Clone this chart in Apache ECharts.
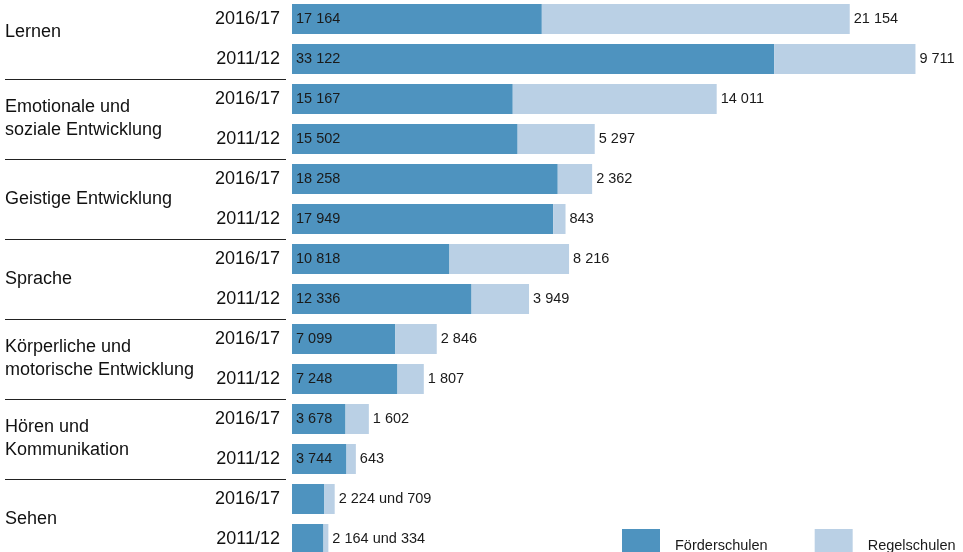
<!DOCTYPE html>
<html lang="de">
<head>
<meta charset="utf-8">
<title>Förderschwerpunkte</title>
<script src="https://cdn.jsdelivr.net/npm/echarts@6/dist/echarts.min.js"></script>
<style>
  html, body { margin: 0; padding: 0; background: #fff; }
  #chart { width: 963px; height: 552px; }
</style>
</head>
<body>
<div id="chart"></div>
<script>
// Förderschwerpunkte, jeweils zwei Schuljahre
const gruppen = [
  'Lernen',
  'Emotionale und\nsoziale Entwicklung',
  'Geistige Entwicklung',
  'Sprache',
  'Körperliche und\nmotorische Entwicklung',
  'Hören und\nKommunikation',
  'Sehen'
];
const jahre = ['2016/17', '2011/12'];

// Schülerzahlen je Zeile (Reihenfolge: Gruppe, dann Schuljahr)
const foerderschulen = [17164, 33122, 15167, 15502, 18258, 17949, 10818, 12336, 7099, 7248, 3678, 3744, 2224, 2164];
const regelschulen   = [21154, 9711, 14011, 5297, 2362, 843, 8216, 3949, 2846, 1807, 1602, 643, 709, 334];

const zeilen = [];
gruppen.forEach(() => jahre.forEach(j => zeilen.push(j)));

const FONT = '"Liberation Sans", Arial, sans-serif';
const DUNKEL = '#4e93bf';
const HELL = '#bad0e5';
// Unterhalb dieser Zahl passt die Beschriftung nicht in den Balken
const SCHWELLE = 3000;

const fmt = v => String(v).replace(/\B(?=(\d{3})+(?!\d))/g, ' ');

const chart = echarts.init(document.getElementById('chart'), null, { renderer: 'canvas' });

chart.setOption({
  animation: false,
  textStyle: { fontFamily: FONT },
  grid: { left: 292, top: -1, width: 655, height: 560, containLabel: false, outerBoundsMode: 'none' },
  legend: {
    left: 622, top: 529, padding: 0, width: 400,
    icon: 'rect',
    itemWidth: 38, itemHeight: 34, itemGap: 47,
    textStyle: { fontFamily: FONT, fontSize: 14.5, color: '#1a1a1a', padding: [0, 0, 0, 10] },
    data: ['Förderschulen', 'Regelschulen']
  },
  xAxis: { type: 'value', min: 0, max: 45000, show: false },
  yAxis: [
    {
      type: 'category', inverse: true, data: zeilen,
      axisLine: { show: false }, axisTick: { show: false },
      axisLabel: { fontFamily: FONT, fontSize: 18, color: '#111', margin: 12 }
    },
    {
      type: 'category', inverse: true, position: 'left', offset: 6,
      data: gruppen,
      axisLine: { show: false },
      axisTick: { show: true, length: 281, lineStyle: { color: '#222', width: 1.2 } },
      axisLabel: {
        fontFamily: FONT, fontSize: 18, lineHeight: 23, color: '#111', align: 'left', margin: 281,
        formatter: (v, i) => i === 0 ? '{hoch|' + v + '}' : v,
        rich: { hoch: { fontFamily: FONT, fontSize: 18, color: '#111', padding: [0, 0, 14, 0] } }
      }
    }
  ],
  series: [
    {
      name: 'Förderschulen', type: 'bar', stack: 'gesamt', yAxisIndex: 0,
      barWidth: 30, itemStyle: { color: DUNKEL },
      data: foerderschulen,
      label: {
        show: true, position: 'insideLeft', distance: 4,
        fontFamily: FONT, fontSize: 14.5, color: '#1a1a1a',
        formatter: p => p.value < SCHWELLE ? '' : fmt(p.value)
      }
    },
    {
      name: 'Regelschulen', type: 'bar', stack: 'gesamt', yAxisIndex: 0,
      barWidth: 30, itemStyle: { color: HELL },
      data: regelschulen,
      label: {
        show: true, position: 'right', distance: 4,
        fontFamily: FONT, fontSize: 14.5, color: '#1a1a1a',
        formatter: p => {
          const f = foerderschulen[p.dataIndex];
          return f < SCHWELLE ? fmt(f) + ' und ' + fmt(p.value) : fmt(p.value);
        }
      }
    }
  ]
});
</script>
</body>
</html>
